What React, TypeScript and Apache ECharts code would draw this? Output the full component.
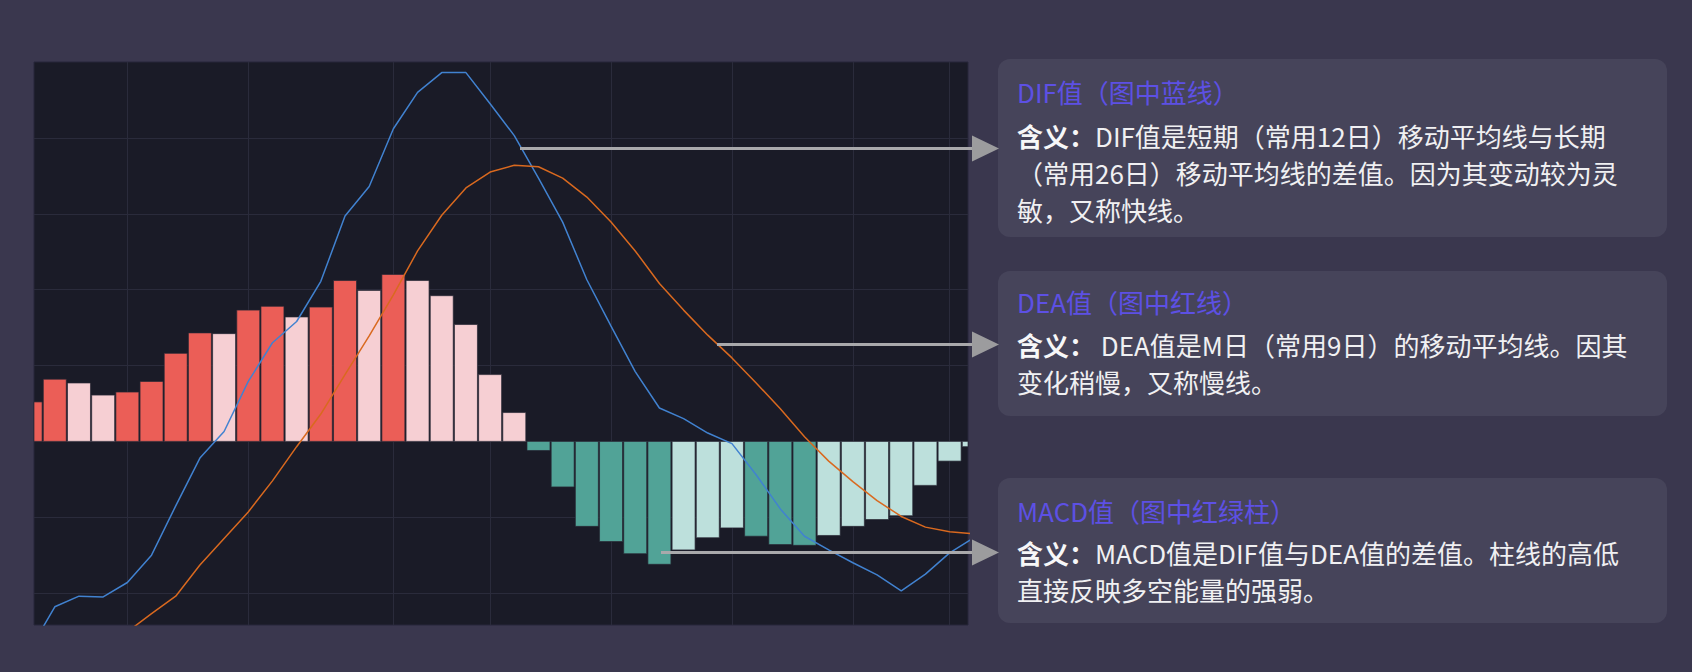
import React, { useEffect, useRef } from "react";
import * as echarts from "echarts";

// ---- data ----
const macdValues = [
  0.52, 0.82, 0.77, 0.61, 0.65, 0.79, 1.16, 1.43, 1.42, 1.73,
  1.78, 1.64, 1.77, 2.12, 1.99, 2.2, 2.12, 1.92, 1.54, 0.88,
  0.38, -0.12, -0.6, -1.12, -1.32, -1.48, -1.62, -1.43, -1.27, -1.14,
  -1.25, -1.36, -1.37, -1.24, -1.12, -1.03, -0.98, -0.58, -0.26, -0.07,
];
const difValues = [
  -2.73, -2.18, -2.04, -2.05, -1.86, -1.5, -0.85, -0.22, 0.13, 0.79,
  1.3, 1.58, 2.11, 2.97, 3.36, 4.12, 4.6, 4.86, 4.86, 4.45,
  4.03, 3.47, 2.89, 2.13, 1.52, 0.92, 0.44, 0.3, 0.11, -0.03,
  -0.44, -0.89, -1.25, -1.43, -1.6, -1.76, -1.97, -1.75, -1.47, -1.27,
];
const deaValues = [
  -3.45, -3.22, -2.98, -2.75, -2.51, -2.27, -2.04, -1.63, -1.28, -0.93,
  -0.52, -0.07, 0.36, 0.88, 1.39, 1.93, 2.51, 2.98, 3.34, 3.55,
  3.64, 3.62, 3.47, 3.22, 2.89, 2.51, 2.08, 1.73, 1.4, 1.1,
  0.77, 0.43, 0.06, -0.26, -0.53, -0.78, -0.99, -1.13, -1.19, -1.22,
];
const verticalGridIdx = [4, 9, 15, 19, 24, 29, 34, 38];
const horizontalGridVals = [-2, -1, 0, 1, 2, 3, 4];

const cardTitles = ["DIF值（图中蓝线）", "DEA值（图中红线）", "MACD值（图中红绿柱）"];
const cardLead = "含义：";
const cardBodies = [
  [
    "DIF值是短期（常用12日）移动平均线与长期",
    "（常用26日）移动平均线的差值。因为其变动较为灵",
    "敏，又称快线。",
  ],
  [" DEA值是M日（常用9日）的移动平均线。因其", "变化稍慢，又称慢线。"],
  ["MACD值是DIF值与DEA值的差值。柱线的高低", "直接反映多空能量的强弱。"],
];

const FONT = "'Noto Sans CJK SC', 'Noto Sans', sans-serif";

function barColor(i: number): string {
  const v = macdValues[i];
  const prev = i > 0 ? macdValues[i - 1] : null;
  if (v >= 0) {
    return prev === null || v >= prev ? "#eb5e57" : "#f6cfd3";
  }
  return prev === null || v <= prev ? "#51a397" : "#bde0dc";
}

export default function App() {
  const ref = useRef<HTMLDivElement>(null);

  useEffect(() => {
    if (!ref.current) return;
    const chart = echarts.init(ref.current, undefined, { renderer: "svg" });

    const cards = [
      { y: 59, h: 178, titleY: 91, bodyY: 135 },
      { y: 271, h: 145, titleY: 301, bodyY: 344 },
      { y: 478, h: 145, titleY: 510, bodyY: 552 },
    ];
    const arrows = [
      { x0: 520, y: 148.5 },
      { x0: 717, y: 344.5 },
      { x0: 661, y: 552.5 },
    ];
    const LH = 37;
    const FS = 26;

    const graphics: any[] = [];
    cards.forEach((c, k) => {
      graphics.push({
        type: "rect",
        z: 100,
        shape: { x: 998, y: c.y, width: 669, height: c.h, r: 12 },
        style: { fill: "#46445a" },
        silent: true,
      });
      graphics.push({
        type: "text",
        z: 101,
        style: {
          text: cardTitles[k],
          x: 1017,
          y: c.titleY,
          fill: "#5d50e4",
          fontSize: FS,
          fontFamily: FONT,
          fontWeight: "normal",
          verticalAlign: "middle",
        },
        silent: true,
      });
      const body = cardBodies[k]
        .map((line, j) => (j === 0 ? `{b|${cardLead}}{n|${line}}` : `{n|${line}}`))
        .join("\n");
      graphics.push({
        type: "text",
        z: 101,
        style: {
          text: body,
          x: 1017,
          y: c.bodyY - LH / 2,
          verticalAlign: "top",
          fill: "#f3f3f5",
          fontSize: FS,
          fontFamily: FONT,
          lineHeight: LH,
          rich: {
            b: { fontSize: FS, fontFamily: FONT, fontWeight: "bold", fill: "#f7f7f8", lineHeight: LH },
            n: { fontSize: FS, fontFamily: FONT, fontWeight: "normal", fill: "#f0f0f2", lineHeight: LH },
          },
        },
        silent: true,
      });
    });
    arrows.forEach((a) => {
      graphics.push({
        type: "line",
        z: 100,
        shape: { x1: a.x0, y1: a.y, x2: 974, y2: a.y },
        style: { stroke: "#a9a9ab", lineWidth: 3 },
        silent: true,
      });
      graphics.push({
        type: "polygon",
        z: 101,
        shape: {
          points: [
            [972, a.y - 13],
            [999, a.y],
            [972, a.y + 13],
          ],
        },
        style: { fill: "#9c9c9e" },
        silent: true,
      });
    });

    const option: any = {
      animation: false,
      backgroundColor: "#3a374e",
      grid: {
        left: 34,
        top: 62,
        width: 934,
        height: 563,
        show: true,
        backgroundColor: "#1a1b27",
        borderColor: "#26273a",
        borderWidth: 1,
      },
      xAxis: { type: "value", min: 0.14, max: 38.76, show: false },
      yAxis: { type: "value", min: -2.42, max: 5, show: false },
      series: [
        {
          name: "grid",
          type: "line",
          data: [],
          z: 1,
          silent: true,
          markLine: {
            z: 1,
            silent: true,
            symbol: "none",
            label: { show: false },
            lineStyle: { color: "#2a2b3b", width: 1, type: "solid" },
            data: [
              ...verticalGridIdx.map((v) => ({ xAxis: v })),
              ...horizontalGridVals.map((v) => ({ yAxis: v })),
            ],
          },
        },
        {
          name: "MACD",
          type: "custom",
          z: 2,
          data: macdValues.map((v, i) => [i, v]),
          encode: { x: 0, y: 1 },
          renderItem: (params: any, api: any) => {
            const i = api.value(0);
            const v = api.value(1);
            const top = api.coord([i, v]);
            const base = api.coord([i, 0]);
            const band = api.size([1, 0])[0];
            const w = band - 1.2;
            const cs = params.coordSys;
            const rect = echarts.graphic.clipRectByRect(
              {
                x: top[0] - w / 2,
                y: Math.min(top[1], base[1]),
                width: w,
                height: Math.abs(base[1] - top[1]),
              },
              { x: cs.x, y: cs.y, width: cs.width, height: cs.height }
            );
            if (!rect) return null;
            return {
              type: "rect",
              shape: rect,
              style: {
                fill: barColor(params.dataIndex),
                stroke: "rgba(40,40,52,0.7)",
                lineWidth: 1,
              },
            };
          },
        },
        {
          name: "DIF",
          type: "line",
          z: 3,
          clip: true,
          symbol: "none",
          lineStyle: { color: "#4182d0", width: 1.5 },
          data: difValues.map((v, i) => [i, v]),
        },
        {
          name: "DEA",
          type: "line",
          z: 3,
          clip: true,
          symbol: "none",
          lineStyle: { color: "#d9691f", width: 1.5 },
          data: deaValues.map((v, i) => [i, v]),
        },
      ],
      graphic: graphics,
    };
    chart.setOption(option);
    return () => chart.dispose();
  }, []);

  return (
    <div
      ref={ref}
      style={{ position: "fixed", left: 0, top: 0, width: 1692, height: 672 }}
    />
  );
}
